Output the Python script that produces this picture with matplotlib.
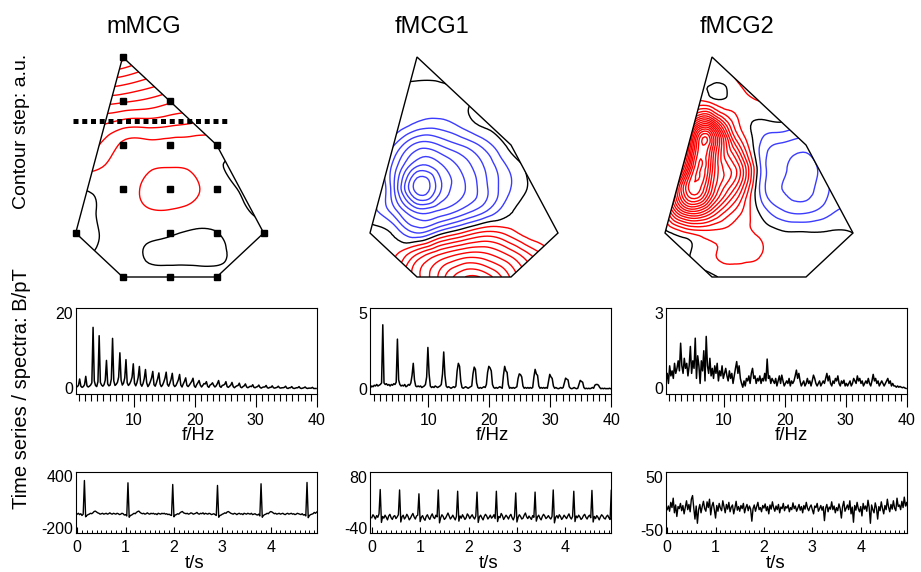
import numpy as np
import matplotlib
matplotlib.use("Agg")
import matplotlib.pyplot as plt
import matplotlib.tri as mtri
from matplotlib.patches import Polygon
from matplotlib.ticker import MultipleLocator, FixedLocator

plt.rcParams['font.family'] = ['Liberation Sans', 'DejaVu Sans']
plt.rcParams['axes.unicode_minus'] = False

titles = ["mMCG", "fMCG1", "fMCG2"]

# map geometry (sensor grid units)
grid_x = [-2, -1.5, -1, -0.5, 0, 0.5, 1, 1.5, 2]
grid_y = [0, 0.5, 1, 1.5, 2, 2.5, 3, 3.5, 4, 4.5, 5]
outline_x = [-1, 1, 2, 1, -1, -2]
outline_y = [5, 3, 1, 0, 0, 1]
sensor_x = [-1, -1, 0, -1, 0, 1, -1, 0, 1, -2, 0, 1, 2, -1, 0, 1]
sensor_y = [5, 4, 4, 3, 3, 3, 2, 2, 2, 1, 1, 1, 1, 0, 0, 0]
cut_x = [-2.06, 1.23]
cut_y = [3.55, 3.55]

# field values in contour steps, rows y=0 ... y=5, columns x=-2 ... 2
mmcg_field = [
    [0.1, 0.2, 0.3, 0.3, 0.3, 0.3, 0.3, 0.2, 0.3],
    [-0.1, 0.1, 0.3, -0.05, -0.15, -0.2, -0.15, 0.2, 0.3],
    [-0.2, 0.0, 0.3, 0.25, 0.1, -0.1, -0.02, 0.3, 0.3],
    [-0.3, 0.05, 0.5, 0.9, 0.95, 0.7, 0.3, 0.1, -0.2],
    [-0.2, 0.2, 0.6, 1.15, 1.35, 1.15, 0.5, -0.05, -0.2],
    [1.5, 1.1, 0.5, 0.8, 0.98, 0.8, 0.15, -0.2, -0.3],
    [2.5, 2.0, 0.8, 0.7, 0.65, 0.6, 0.5, 0.3, 0.2],
    [3.0, 3.2, 2.6, 2.5, 2.3, 2.0, 1.7, 1.3, 1.0],
    [5.5, 5.5, 5.2, 4.8, 4.2, 3.8, 3.4, 3.0, 2.6],
    [8.0, 8.0, 7.7, 7.0, 6.3, 5.6, 5.0, 4.5, 4.0],
    [11.0, 11.0, 10.5, 9.3, 8.3, 7.5, 6.8, 6.0, 5.5],
]
fmcg1_field = [
    [0.3, 1.92, 4.65, 7.37, 9.94, 9.47, 6.83, 4.11, 1.37],
    [0.3, 0.79, 3.14, 5.15, 6.38, 6.22, 4.79, 2.68, 0.3],
    [0.3, -0.19, -2.0, -0.35, 1.19, 2.34, 1.46, 0.3, 0.3],
    [-0.5, -2.52, -5.34, -4.83, -3.56, -1.93, -0.1, 0.3, 0.3],
    [-0.5, -3.76, -9.5, -7.12, -5.1, -3.04, -0.97, 0.3, 0.3],
    [-0.5, -3.38, -7.1, -6.28, -4.6, -2.7, -0.71, 0.3, 0.3],
    [-0.5, -1.9, -4.35, -3.93, -2.84, -1.35, 0.3, 0.3, 0.3],
    [-0.2, -0.2, -1.1, -1.33, -0.5, 0.3, 0.3, 0.3, 0.3],
    [-0.2, -0.3, -0.4, -0.3, -0.1, 0.2, 0.3, 0.3, 0.3],
    [0.2, 0.1, 0.05, 0.05, 0.2, 0.3, 0.3, 0.3, 0.3],
    [0.3, 0.3, 0.3, 0.3, 0.3, 0.3, 0.3, 0.3, 0.3],
]
fmcg2_field = [
    [-1.5, -1.5, -0.3, 0.5, 0.5, 0.3, 0.3, 0.3, 0.3],
    [-1.5, -0.1, 0.9, 1.2, 1.05, 0.3, 0.3, 0.3, 0.3],
    [-0.3, 1.0, 1.6, 1.5, 0.85, 0.15, 0.1, 0.1, 0.0],
    [2.0, 9.0, 6.5, 2.8, -0.1, -1.91, -2.24, -1.3, -0.8],
    [2.5, 15.0, 11.0, 5.7, -0.9, -3.01, -3.34, -1.99, -1.5],
    [0.3, 11.55, 12.3, 7.0, -0.6, -2.88, -3.44, -2.09, -1.3],
    [0.3, 8.5, 13.7, 4.0, -0.9, -2.21, -2.54, -1.19, -0.2],
    [0.3, 4.6, 8.4, 1.5, -0.2, -0.1, -0.64, 0.3, 0.3],
    [0.3, 0.5, 0.5, 0.5, 1.0, 1.3, 1.0, 1.0, 1.0],
    [0.3, 0.3, 0.25, 1.0, 1.6, 1.3, 1.0, 1.0, 1.0],
    [0.3, 0.3, 0.3, 1.6, 1.5, 1.2, 1.0, 1.0, 1.0],
]
# extra read-off points: fMCG2 maximum ridge and the small dip near the apex
fmcg2_extra_x = [-1.385, -1.3, -1.215, -1.14, -0.9]
fmcg2_extra_y = [2.26, 2.6, 2.94, 3.23, 4.25]
fmcg2_extra_v = [15.8, 15.8, 15.8, 15.5, -0.35]

# spectra, 0.2 Hz bins starting at 0.5 Hz
mmcg_spectrum = [
    0.3, 0.5, 0.8, 2.5, 0.6, 0.3, 0.5, 1.0, 3.2, 0.7,
    0.4, 0.6, 0.9, 1.5, 16.1, 2.0, 0.8, 0.5, 1.8, 13.9,
    1.6, 0.9, 0.6, 1.0, 2.2, 7.4, 1.2, 0.7, 0.9, 2.5,
    13.2, 2.0, 0.8, 1.1, 1.6, 3.0, 9.4, 2.2, 0.9, 1.4,
    2.8, 7.6, 1.5, 0.8, 1.2, 1.9, 3.0, 6.5, 1.4, 0.7,
    1.5, 2.9, 5.8, 1.2, 0.6, 1.3, 2.6, 5.0, 1.5, 0.5,
    1.0, 1.8, 2.8, 4.5, 1.0, 0.6, 1.5, 2.6, 4.1, 1.2,
    0.5, 0.9, 1.7, 2.7, 4.3, 1.1, 0.6, 1.4, 2.4, 4.0,
    1.0, 0.5, 0.8, 1.5, 2.3, 3.7, 0.9, 0.4, 1.2, 1.9,
    2.8, 0.8, 0.5, 0.9, 1.4, 1.9, 2.7, 0.7, 0.3, 1.0,
    1.5, 2.1, 0.9, 0.4, 0.8, 1.3, 1.2, 1.8, 0.6, 0.3,
    0.9, 1.1, 1.5, 0.8, 0.4, 0.7, 1.3, 2.1, 0.6, 0.3,
    0.8, 0.9, 1.1, 1.8, 0.5, 0.3, 0.6, 0.9, 1.6, 0.5,
    0.2, 0.5, 0.7, 0.8, 1.4, 0.4, 0.2, 0.5, 0.7, 1.2,
    0.4, 0.2, 0.4, 0.6, 0.5, 1.0, 0.3, 0.2, 0.4, 0.5,
    0.9, 0.3, 0.1, 0.3, 0.4, 0.4, 0.8, 0.2, 0.1, 0.3,
    0.3, 0.7, 0.2, 0.1, 0.2, 0.3, 0.6, 0.2, 0.1, 0.2,
    0.2, 0.3, 0.6, 0.1, 0.0, 0.2, 0.2, 0.5, 0.1, 0.0,
    0.1, 0.2, 0.2, 0.5, 0.1, 0.0, 0.1, 0.2, 0.4, 0.1,
    0.0, 0.1, 0.1, 0.1, 0.3, 0.0, 0.0, 0.0,
]
fmcg1_spectrum = [
    0.1, 0.2, 0.15, 0.25, 0.2, 0.3, 0.2, 0.25, 0.3, 0.4,
    4.25, 0.4, 0.3, 0.35, 0.25, 0.3, 0.2, 0.3, 0.25, 0.35,
    0.3, 0.45, 3.3, 0.6, 0.3, 0.2, 0.25, 0.2, 0.3, 0.15,
    0.2, 0.3, 0.25, 0.4, 0.9, 1.7, 0.6, 0.2, 0.15, 0.2,
    0.15, 0.2, 0.1, 0.15, 0.2, 0.3, 0.8, 2.75, 1.0, 0.2,
    0.1, 0.15, 0.1, 0.2, 0.15, 0.1, 0.15, 0.2, 0.3, 1.0,
    2.45, 0.9, 0.2, 0.1, 0.15, 0.1, 0.05, 0.1, 0.15, 0.1,
    0.2, 1.2, 1.7, 1.5, 0.5, 0.1, 0.05, 0.1, 0.15, 0.1,
    0.05, 0.1, 0.15, 0.2, 1.0, 1.45, 1.3, 0.4, 0.1, 0.05,
    0.1, 0.05, 0.1, 0.15, 0.1, 0.3, 1.1, 1.5, 1.4, 1.2,
    0.3, 0.1, 0.05, 0.1, 0.05, 0.1, 0.15, 0.1, 0.05, 0.9,
    1.5, 1.2, 1.1, 0.3, 0.05, 0.1, 0.05, 0.1, 0.05, 0.1,
    0.15, 0.7, 1.0, 0.95, 0.8, 0.2, 0.05, 0.1, 0.05, 0.1,
    0.05, 0.1, 0.05, 0.1, 0.8, 1.3, 1.0, 0.9, 0.2, 0.05,
    0.1, 0.05, 0.1, 0.05, 0.1, 0.05, 0.5, 0.97, 0.8, 0.7,
    0.2, 0.05, 0.1, 0.05, 0.02, 0.05, 0.1, 0.05, 0.1, 0.4,
    0.72, 0.65, 0.6, 0.15, 0.05, 0.02, 0.05, 0.1, 0.05, 0.02,
    0.05, 0.3, 0.57, 0.5, 0.45, 0.1, 0.02, 0.05, 0.02, 0.05,
    0.02, 0.05, 0.1, 0.05, 0.25, 0.3, 0.3, 0.25, 0.1, 0.02,
    0.05, 0.02, 0.05, 0.02, 0.03, 0.02, 0.05, 0.02,
]
fmcg2_spectrum = [
    0.3, 0.6, 0.2, 0.9, 0.5, 0.7, 0.4, 1.0, 0.6, 0.8,
    1.1, 0.7, 1.8, 0.9, 0.6, 1.2, 0.8, 1.0, 0.5, 0.9,
    1.67, 0.6, 1.1, 0.8, 2.0, 0.4, 1.3, 0.9, 0.2, 1.1,
    0.7, 1.5, 0.3, 2.07, 0.9, 0.6, 1.2, 0.5, 0.8, 0.4,
    0.9, 0.6, 1.0, 0.3, 0.7, 0.5, 0.9, 0.4, 0.6, 0.8,
    0.5, 0.3, 0.7, 0.4, 0.6, 0.2, 0.5, 0.8, 1.07, 0.6,
    0.9, 0.4, 0.2, 0.05, 0.3, 0.1, 0.4, 0.3, 0.5, 0.2,
    0.6, 0.8, 0.4, 0.5, 0.2, 0.4, 0.3, 0.5, 0.2, 0.4,
    0.3, 0.6, 0.3, 1.17, 0.4, 0.5, 0.2, 0.4, 0.3, 0.2,
    0.4, 0.1, 0.3, 0.5, 0.2, 0.53, 0.3, 0.1, 0.2, 0.3,
    0.2, 0.4, 0.1, 0.3, 0.2, 0.3, 0.5, 0.73, 0.4, 0.6,
    0.3, 0.1, 0.2, 0.3, 0.1, 0.2, 0.4, 0.2, 0.3, 0.1,
    0.3, 0.53, 0.4, 0.2, 0.1, 0.2, 0.3, 0.1, 0.2, 0.3,
    0.2, 0.4, 0.6, 0.3, 0.5, 0.2, 0.1, 0.3, 0.2, 0.4,
    0.3, 0.5, 0.2, 0.1, 0.3, 0.2, 0.33, 0.1, 0.2, 0.1,
    0.2, 0.3, 0.1, 0.2, 0.4, 0.3, 0.2, 0.5, 0.3, 0.4,
    0.2, 0.3, 0.1, 0.2, 0.3, 0.2, 0.4, 0.2, 0.1, 0.3,
    0.56, 0.3, 0.4, 0.2, 0.3, 0.1, 0.2, 0.3, 0.2, 0.1,
    0.2, 0.3, 0.4, 0.2, 0.3, 0.1, 0.2, 0.1, 0.1, 0.05,
    0.1, 0.05, 0.08, 0.05, 0.03, 0.05, 0.02, 0.0,
]

# time series, 25 ms samples from t = 0
mmcg_series = [
    -40, -30, -45, -35, -55, -40, 343, -70, -55, -45,
    -40, -30, -35, -25, -10, -5, -15, -25, -30, -40,
    -35, -30, -40, -35, -30, -40, -35, -25, -35, -40,
    -30, -35, -40, -30, -35, -45, -40, -30, -35, -50,
    -45, -60, 317, -75, -55, -50, -40, -30, -35, -20,
    -10, -5, -20, -30, -35, -30, -40, -35, -25, -35,
    -40, -30, -35, -30, -40, -35, -45, -30, -35, -40,
    -30, -35, -30, -40, -35, -45, -40, -50, -55, 298,
    -70, -50, -45, -35, -40, -25, -15, -10, -25, -30,
    -35, -30, -40, -35, -25, -30, -40, -35, -30, -20,
    -35, -40, -30, -35, -25, -40, -30, -35, -40, -30,
    -35, -45, -40, -35, -45, -55, 287, -75, -55, -50,
    -40, -35, -25, -30, -15, -10, -20, -30, -35, -40,
    -30, -35, -45, -35, -30, -40, -35, -45, -30, -35,
    -40, -30, -35, -40, -30, -45, -40, -35, -45, -50,
    -40, -60, 306, -75, -55, -45, -40, -30, -35, -20,
    -10, -15, -25, -35, -30, -40, -35, -30, -40, -35,
    -30, -40, -45, -35, -30, -40, -35, -30, -40, -35,
    -45, -40, -30, -35, -40, -45, -35, -50, -45, -60,
    321, -80, -55, -45, -40, -35, -20, -30, -15, -20,
]
fmcg1_series = [
    -15, -8, -12, -18, -10, -14, -6, 51, -26, -12,
    -16, -9, -14, -20, -11, -7, -15, -19, -12, -10,
    -17, -13, -8, 50, -25, -13, -9, -18, -14, -7,
    -12, -20, -16, -10, -5, -13, -18, -11, -9, 41,
    -24, -14, -10, -17, -21, -12, -8, -15, -19, -11,
    -6, -14, -17, -9, -13, 50, -27, -15, -8, -12,
    -19, -16, -10, -4, -11, -18, -14, -9, -15, -20,
    -12, 47, -23, -11, -16, -8, -13, -19, -15, -6,
    -10, -17, -12, -8, -14, -18, -11, 45, -26, -13,
    -9, -15, -20, -12, -7, -11, -18, -14, -9, -16,
    -13, -8, -17, 47, -24, -12, -15, -5, -10, -19,
    -14, -9, -13, -18, -11, -7, -15, -20, -12, 43,
    -25, -14, -8, -12, -18, -16, -9, -4, -13, -17,
    -11, -15, -19, -10, -14, 45, -23, -13, -9, -16,
    -20, -12, -7, -11, -17, -14, -10, -15, -18, -12,
    50, -27, -14, -10, -16, -8, -12, -19, -15, -9,
    -13, -17, -11, -6, -14, -18, -12, 47, -24, -11,
    -15, -9, -13, -19, -16, -10, -7, -14, -18, -12,
    -9, -15, 49, -25, -12, -17, -10, -14, -20, -13,
    -8, -11, -16, -18, -12, -9, -15, -19, 50, -22,
]
fmcg2_series = [
    -12, -5, -15, 2, -8, 10, -18, -3, -25, -6,
    -10, 0, -14, -4, -20, -8, 5, -12, -2, -16,
    8, 15, -9, -30, -5, -38, -12, -2, -18, -6,
    4, -10, -15, 3, -8, 8, -22, -5, 2, -12,
    -28, -4, -15, 0, -9, -14, 5, -6, -18, -2,
    -11, 2, -16, -7, -3, -20, -9, 4, -13, -6,
    -15, -4, -10, 0, -18, -8, -2, -14, -5, -11,
    -34, -10, -3, -15, -6, 2, -12, -8, -16, -4,
    -9, -1, -14, -6, -20, -3, -11, 3, -8, -15,
    -5, -12, -2, -18, -7, -10, 0, -14, -6, -9,
    -3, -16, -8, -12, 1, -10, -5, -15, -9, -2,
    -13, -6, -18, -4, -11, 2, -9, -14, -7, -3,
    -12, -20, -5, -8, 0, -15, -10, -4, -13, -6,
    -33, -9, -2, -16, -7, -11, 3, -12, -5, -18,
    -8, -14, -1, -10, -28, -6, 4, -15, -9, -3,
    -12, 5, -20, -7, -36, -4, -13, 2, -10, -16,
    -6, -24, 0, -11, -5, -15, 6, -8, -38, -3,
    -12, -18, 1, -9, -30, -6, -14, 3, -10, -20,
    -4, -12, 8, -7, -16, -2, -11, 5, -9, -14,
    10, -6, -3, -12, 4, -8, 12, -5, 2, -10,
]

spec_ylim = [(-1.45, 21.2), (-0.33, 5.36), (-0.22, 3.2)]
spec_ytop = [20, 5, 3]
ts_ylim = [(-251, 440), (-50, 92), (-56, 60)]
ts_yticks = [(-200, 400), (-40, 80), (-50, 50)]

fields = [mmcg_field, fmcg1_field, fmcg2_field]
extras = [([], [], []), ([], [], []), (fmcg2_extra_x, fmcg2_extra_y, fmcg2_extra_v)]
spectra = [mmcg_spectrum, fmcg1_spectrum, fmcg2_spectrum]
series = [mmcg_series, fmcg1_series, fmcg2_series]

RED = "#ff0000"
BLUE = "#3c3cff"
W, H = 921, 572


def box(left, top, right, bottom):
    return [left / W, 1 - bottom / H, (right - left) / W, (bottom - top) / H]


fig = plt.figure(figsize=(W / 100, H / 100), dpi=100)

col_shift = [0, 294.3, 589.3]
panel_left = [75.7, 370.3, 665.7]
title_x = [144, 432, 737]
fhz_x = [198, 492, 791]
ts_x = [195, 489, 776]

for k in range(3):
    s = col_shift[k]
    # contour map
    ax = fig.add_axes(box(61.6 + s, 43.8, 277.8 + s, 290.2))
    ax.set_xlim(-2.3, 2.3)
    ax.set_ylim(-0.3, 5.3)
    ax.axis("off")
    gx, gy = np.meshgrid(grid_x, grid_y)
    ex, ey, ev = extras[k]
    px = np.concatenate([gx.ravel(), ex])
    py = np.concatenate([gy.ravel(), ey])
    pv = np.concatenate([np.array(fields[k], float).ravel(), ev])
    tri = mtri.Triangulation(px, py)
    refiner = mtri.UniformTriRefiner(tri)
    tri_f, z_f = refiner.refine_field(pv, subdiv=3)
    levels = list(range(int(np.ceil(z_f.min())), int(np.floor(z_f.max())) + 1))
    cols = ["k" if lv == 0 else (RED if lv > 0 else BLUE) for lv in levels]
    hexagon = Polygon(list(zip(outline_x, outline_y)), closed=True,
                      fill=False, ec="k", lw=1.0, zorder=3)
    ax.add_patch(hexagon)
    cs = ax.tricontour(tri_f, z_f, levels=levels, colors=cols, linewidths=1.0)
    cs.set_clip_path(hexagon)
    if k == 0:
        ax.plot(sensor_x, sensor_y, "s", color="k", ms=4, zorder=4)
        ax.plot(cut_x, cut_y, color="k", lw=3.6, ls=(0, (1.0, 0.75)), zorder=5)
    fig.text(title_x[k] / W, 1 - 27 / H, titles[k],
             ha="center", va="center", fontsize=17)

    # spectrum
    left = panel_left[k]
    ax = fig.add_axes(box(left, 308, left + 241, 394))
    freq = 0.5 + 0.2 * np.arange(len(spectra[k]))
    ax.plot(freq, spectra[k], color="k", lw=1.1)
    ax.set_xlim(0.45, 40)
    ax.set_ylim(*spec_ylim[k])
    ax.xaxis.set_major_locator(FixedLocator([10, 20, 30, 40]))
    ax.xaxis.set_minor_locator(MultipleLocator(1))
    ax.set_yticks([0, spec_ytop[k]])
    ax.tick_params(axis="x", which="major", direction="out", length=9,
                   width=0.8, pad=5, labelsize=11.5)
    ax.tick_params(axis="x", which="minor", direction="out", length=5, width=0.8)
    ax.tick_params(axis="y", length=0, pad=2, labelsize=11.5)
    for sp in ax.spines.values():
        sp.set_linewidth(0.8)
    fig.text(fhz_x[k] / W, 1 - 436 / H, "f/Hz",
             ha="center", va="center", fontsize=13.5)

    # time series
    ax = fig.add_axes(box(left, 472, left + 241, 532.7))
    t = 0.025 * np.arange(len(series[k]))
    ax.plot(t, series[k], color="k", lw=1.0)
    ax.set_xlim(-0.03, 4.95)
    ax.set_ylim(*ts_ylim[k])
    ax.xaxis.set_major_locator(FixedLocator([0, 1, 2, 3, 4]))
    ax.xaxis.set_minor_locator(MultipleLocator(0.1))
    ax.set_yticks(list(ts_yticks[k]))
    ax.tick_params(axis="x", which="major", direction="in", length=4.5,
                   width=0.8, pad=5, labelsize=11.5)
    ax.tick_params(axis="x", which="minor", direction="in", length=2, width=0.7)
    ax.tick_params(axis="y", length=0, pad=2, labelsize=11.5)
    for sp in ax.spines.values():
        sp.set_linewidth(0.8)
    fig.text(ts_x[k] / W, 1 - 563 / H, "t/s",
             ha="center", va="center", fontsize=13.5)

fig.text(22 / W, 1 - 131 / H, "Contour step: a.u.", rotation=90,
         ha="center", va="center", fontsize=14)
fig.text(22 / W, 1 - 389 / H, "Time series / spectra: B/pT", rotation=90,
         ha="center", va="center", fontsize=14.5)

fig.savefig("out.png", dpi=100)
